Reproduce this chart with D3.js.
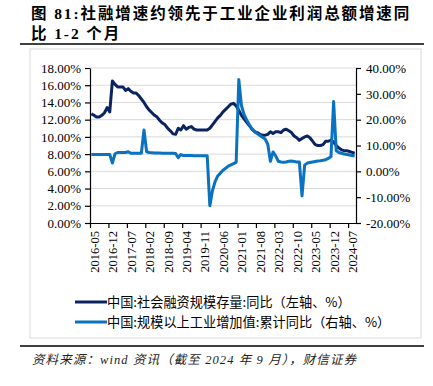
<!DOCTYPE html>
<html>
<head>
<meta charset="utf-8">
<script src="https://cdn.jsdelivr.net/npm/d3@7"></script>
<style>
  html, body { margin: 0; padding: 0; background: #fff; }
  svg { display: block; }
</style>
</head>
<body>
<script>
// ---------------- DATA ----------------
const startYear = 2016, startMonth = 5, monthCount = 101; // 2016-05 .. 2024-09
const months = [];
for (let k = 0; k < monthCount; k++) {
  const m = startMonth - 1 + k;
  const y = startYear + Math.floor(m / 12);
  months.push(y + "-" + String(m % 12 + 1).padStart(2, "0"));
}
const xTickLabels = ["2016-05","2016-12","2017-07","2018-02","2018-09","2019-04","2019-11","2020-06","2021-01","2021-08","2022-03","2022-10","2023-05","2023-12","2024-07"];
const leftTicks = [0, 2, 4, 6, 8, 10, 12, 14, 16, 18];
const rightTicks = [-20, -10, 0, 10, 20, 30, 40];

// 中国:社会融资规模存量:同比 (left axis, %)
const tsfGrowth = [
  12.7,12.5,12.3,12.3,12.5,12.8,13.4,12.9,16.5,16.1,
  15.8,15.8,15.8,15.4,15.6,15.3,15.1,15.1,14.8,14.4,
  14.0,13.5,13.1,12.8,12.5,12.3,11.9,11.6,11.4,11.0,
  10.7,10.35,10.3,11.0,10.8,11.3,10.9,11.1,11.2,10.9,
  10.8,10.8,10.8,10.8,10.8,11.0,11.4,11.8,12.2,12.5,
  12.9,13.2,13.5,13.8,13.9,13.6,13.1,12.5,12.1,11.7,
  11.3,10.9,10.6,10.5,10.3,10.2,10.2,10.3,10.6,10.4,
  10.6,10.6,10.5,10.8,10.9,10.7,10.5,10.1,9.9,9.6,
  9.8,10.0,10.1,9.9,9.5,9.1,9.0,9.0,9.1,9.5,
  9.5,9.6,9.4,9.0,8.7,8.5,8.4,8.4,8.3,8.2,
  8.1
];
// 中国:规模以上工业增加值:累计同比 (right axis, %)
const ipGrowth = [
  6.5,6.5,6.5,6.5,6.5,6.5,6.5,6.5,3.2,6.8,
  7.3,7.3,7.3,7.3,7.6,7.0,7.0,7.0,7.0,7.0,
  16.0,7.6,7.3,7.2,7.1,7.1,7.1,7.0,7.0,7.0,
  7.0,7.0,6.9,5.3,6.5,6.1,6.1,6.1,6.1,6.0,
  6.0,6.0,6.0,6.0,6.0,-13.3,-7.5,-4.0,-1.8,-0.7,
  0.4,1.2,2.0,2.5,3.0,3.5,35.5,25.5,22.0,19.9,
  18.0,16.5,15.5,14.6,13.9,13.2,12.5,10.5,3.9,7.5,
  6.0,3.9,3.6,3.5,3.6,3.9,4.0,3.8,3.6,3.6,
  -9.5,2.4,3.2,3.4,3.6,3.8,4.0,4.1,4.3,4.5,
  5.0,5.7,27.0,8.0,7.3,7.0,6.7,6.5,6.3,6.1,
  5.9
];

const titleLines = ["图 81:社融增速约领先于工业企业利润总额增速同", "比 1-2 个月"];
const seriesNames = ["中国:社会融资规模存量:同比（左轴、%）", "中国:规模以上工业增加值:累计同比（右轴、%）"];
const sourceText = "资料来源：wind 资讯（截至 2024 年 9 月），财信证券";

// ---------------- LAYOUT ----------------
const W = 433, H = 386;
const plot = { left: 90, right: 356, top: 68, bottom: 223 };
const darkColor = "#0b2461", lightColor = "#0b72c1";
const serif = "'Liberation Serif','Times New Roman',serif";
const cjk = "'Noto Sans CJK SC','Noto Sans',sans-serif";

const svg = d3.select("body").append("svg").attr("width", W).attr("height", H);

// Title
svg.selectAll("text.title").data(titleLines).join("text")
  .attr("x", 31).attr("y", (d, i) => 19 + i * 20)
  .attr("font-family", "'Liberation Serif','Noto Sans CJK SC',serif")
  .attr("font-weight", "bold").attr("font-size", 15.5)
  .attr("letter-spacing", 1.9)
  .attr("fill", "#000").text(d => d);

svg.append("line").attr("x1", 20).attr("x2", 424).attr("y1", 44).attr("y2", 44)
  .attr("stroke", "#000").attr("stroke-width", 1.5);

// Chart frame
svg.append("rect").attr("x", 30).attr("y", 49).attr("width", 391).attr("height", 289)
  .attr("fill", "#fff").attr("stroke", "#d9d9d9").attr("stroke-width", 1);

// Scales
const x = d3.scaleLinear().domain([0, monthCount]).range([plot.left, plot.right]);
const yL = d3.scaleLinear().domain([0, 18]).range([plot.bottom, plot.top]);
const yR = d3.scaleLinear().domain([-20, 40]).range([plot.bottom, plot.top]);

// Gridlines
svg.append("g").selectAll("line").data(leftTicks.filter(d => d > 0)).join("line")
  .attr("x1", plot.left).attr("x2", plot.right)
  .attr("y1", d => yL(d)).attr("y2", d => yL(d))
  .attr("stroke", "#d9d9d9").attr("stroke-width", 1);

// Axes
const axL = svg.append("g").attr("transform", `translate(${plot.left},0)`)
  .call(d3.axisLeft(yL).tickValues(leftTicks).tickFormat(d => d.toFixed(2) + "%").tickSize(5).tickSizeOuter(0));
const axR = svg.append("g").attr("transform", `translate(${plot.right},0)`)
  .call(d3.axisRight(yR).tickValues(rightTicks).tickFormat(d => d.toFixed(2) + "%").tickSize(5).tickSizeOuter(0));
const tickIdx = xTickLabels.map(l => months.indexOf(l));
const axB = svg.append("g").attr("transform", `translate(0,${plot.bottom})`)
  .call(d3.axisBottom(x).tickValues(tickIdx).tickFormat((d, i) => xTickLabels[i]).tickSize(5).tickSizeOuter(0));

[axL, axR, axB].forEach(g => {
  g.select(".domain").attr("stroke", "#000").attr("stroke-width", 1.2);
  g.selectAll(".tick line").attr("stroke", "#000").attr("stroke-width", 1.2);
  g.selectAll(".tick text").attr("font-family", serif).attr("font-size", 13).attr("fill", "#000");
});
axL.selectAll(".tick text").attr("x", -9);
axR.selectAll(".tick text").attr("x", 10);
axB.selectAll(".tick text")
  .attr("font-size", 12.5)
  .attr("transform", "rotate(-90)")
  .attr("text-anchor", "end")
  .attr("x", -8).attr("y", 4).attr("dy", "0.35em");

// Lines
const lineL = d3.line().x((d, i) => x(i + 0.5)).y(d => yL(d)).curve(d3.curveLinear);
const lineR = d3.line().x((d, i) => x(i + 0.5)).y(d => yR(d)).curve(d3.curveLinear);

svg.append("path").datum(tsfGrowth).attr("d", lineL)
  .attr("fill", "none").attr("stroke", darkColor).attr("stroke-width", 3)
  .attr("stroke-linejoin", "round");
svg.append("path").datum(ipGrowth).attr("d", lineR)
  .attr("fill", "none").attr("stroke", lightColor).attr("stroke-width", 3)
  .attr("stroke-linejoin", "round");

// Legend
const legend = svg.append("g");
const colors = [darkColor, lightColor];
seriesNames.forEach((name, i) => {
  const ly = 302 + i * 20;
  legend.append("line").attr("x1", 75).attr("x2", 107).attr("y1", ly).attr("y2", ly)
    .attr("stroke", colors[i]).attr("stroke-width", 3);
  legend.append("text").attr("x", 107).attr("y", ly).attr("dy", "0.36em")
    .attr("font-family", cjk).attr("font-size", 13.2).attr("fill", "#000").text(name);
});

// Bottom rule & source
svg.append("line").attr("x1", 20).attr("x2", 424).attr("y1", 346).attr("y2", 346)
  .attr("stroke", "#000").attr("stroke-width", 1.5);
svg.append("text").attr("x", 32).attr("y", 364)
  .attr("font-family", "'Liberation Serif','Noto Sans CJK SC',serif")
  .attr("font-style", "italic").attr("font-size", 12.5).attr("letter-spacing", 1.1).attr("fill", "#222")
  .text(sourceText);
</script>
</body>
</html>
